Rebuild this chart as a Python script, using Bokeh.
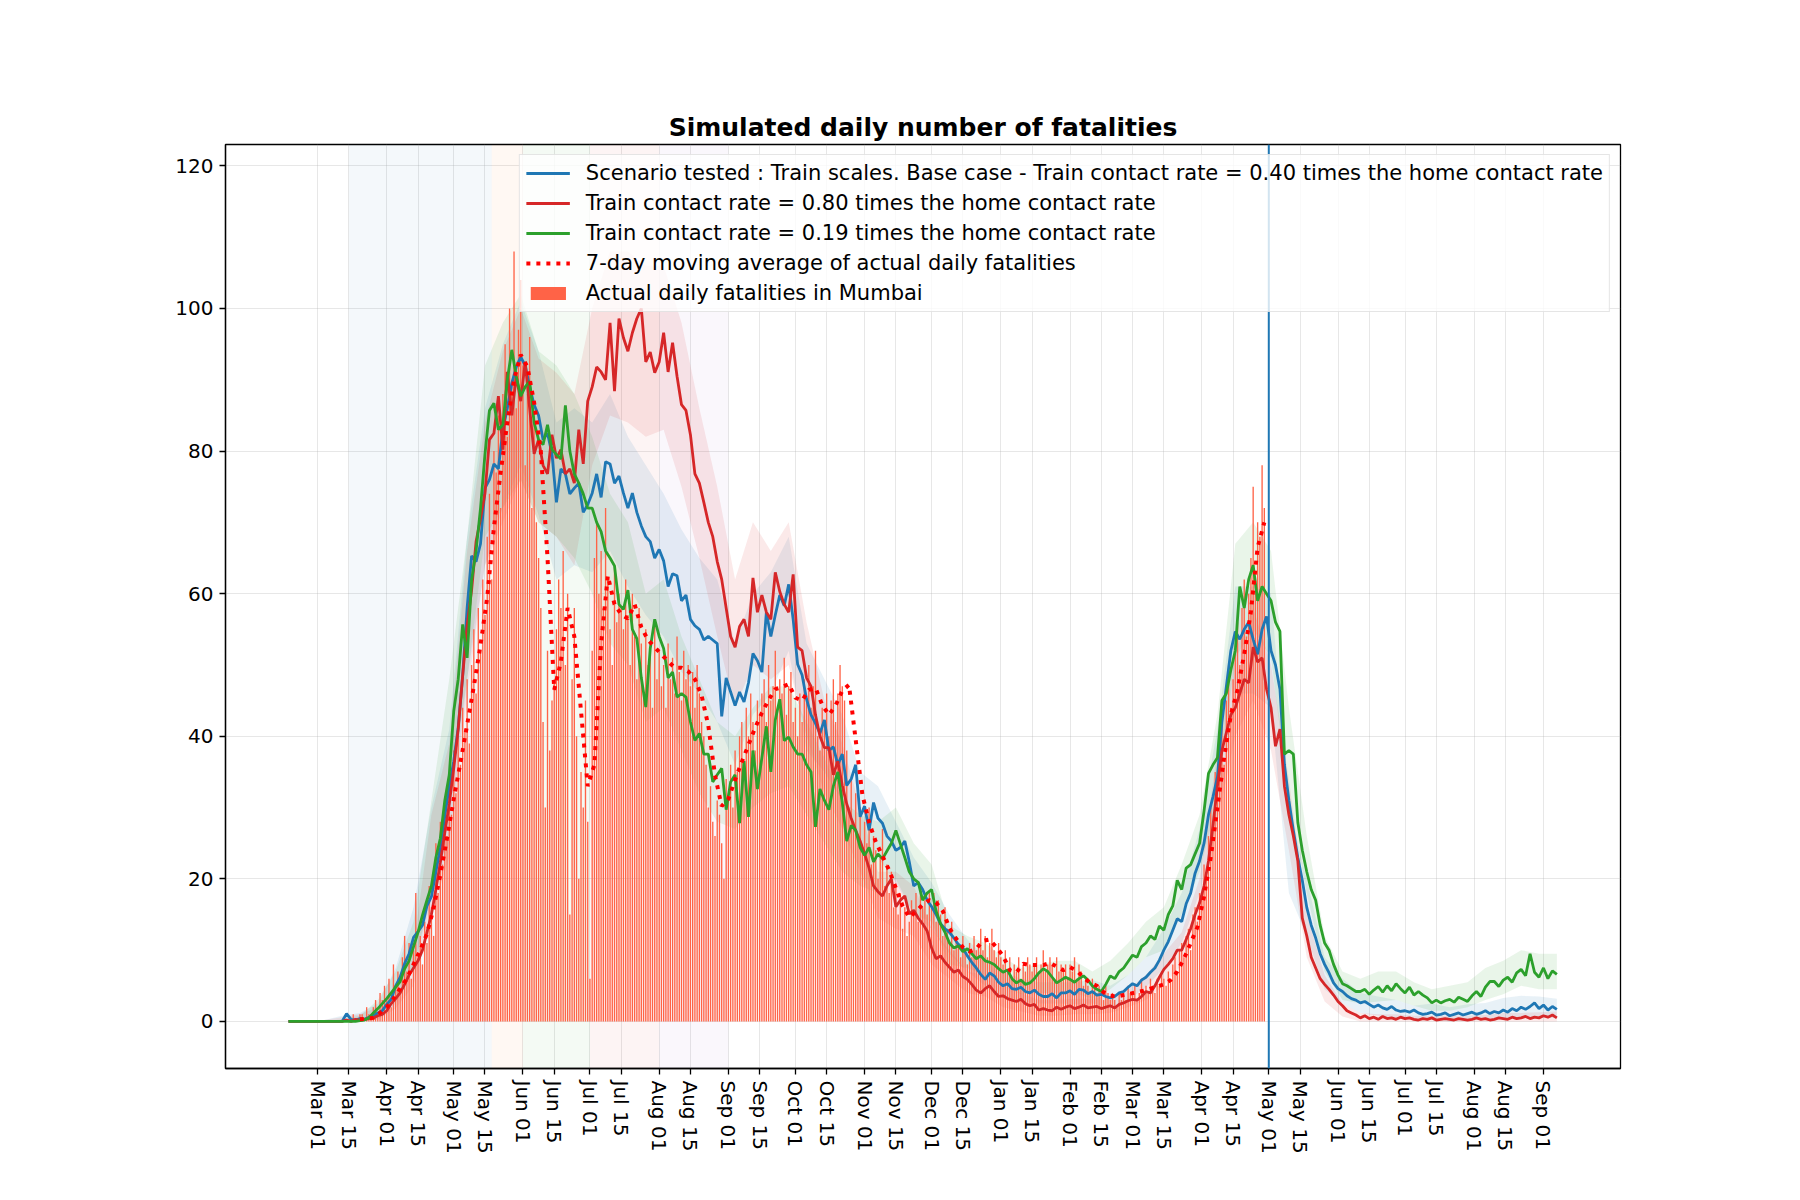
import math
from datetime import datetime, timedelta
from bokeh.plotting import figure
from bokeh.models import (Range1d, FixedTicker, DatetimeTickFormatter, BoxAnnotation, Span,
                          Legend, LegendItem, ColumnDataSource)
from bokeh.embed import file_html
from bokeh.resources import INLINE

# ---------------- data ----------------
TITLE = "Simulated daily number of fatalities"
LABEL_BASE = "Scenario tested : Train scales. Base case - Train contact rate = 0.40 times the home contact rate"
LABEL_HIGH = "Train contact rate = 0.80 times the home contact rate"
LABEL_LOW = "Train contact rate = 0.19 times the home contact rate"
LABEL_MA = "7-day moving average of actual daily fatalities"
LABEL_BARS = "Actual daily fatalities in Mumbai"

sim_start = datetime(2020, 2, 17)   # simulated series, one value every 2 days
sim_step_days = 2

base_case = [
    0, 0, 0, 0, 0, 0, 0, 0, 0, 0,
    0, 0, 0, 1.1, 0.3, 0.2, 0.4, 0.3, 0.6, 0.8,
    1.2, 1.5, 2.4, 3.1, 5.0, 6.2, 8.1, 9.5, 11.8, 12.6,
    13.5, 16.2, 17.5, 21.0, 24.4, 28.8, 33.0, 36.5, 41.2, 48.5,
    58.0, 65.3, 64.5, 67.0, 74.8, 76.0, 78.2, 77.5, 83.0, 86.0,
    89.5, 91.8, 93.2, 92.0, 89.0, 86.5, 85.0, 81.6, 82.5, 79.6,
    72.8, 77.5, 76.8, 74.0, 74.8, 75.5, 71.4, 72.5, 74.1, 76.8,
    73.5, 78.5, 78.2, 75.5, 76.5, 74.1, 72.0, 74.1, 71.4, 69.5,
    68.0, 67.3, 65.0, 66.2, 64.6, 61.0, 62.8, 62.5, 59.0, 59.8,
    56.4, 55.5, 55.0, 53.5, 54.0, 53.5, 53.0, 42.8, 48.2, 46.2,
    44.3, 46.2, 44.8, 47.5, 51.6, 50.6, 49.0, 57.4, 54.0, 57.0,
    59.8, 58.3, 61.3, 56.4, 50.1, 48.6, 45.2, 43.0, 41.8, 40.4,
    42.3, 38.0, 38.5, 36.0, 37.5, 33.1, 34.0, 36.0, 28.7, 30.2,
    26.8, 30.7, 28.5, 27.8, 26.0, 25.3, 24.0, 24.4, 25.3, 22.4,
    19.0, 19.5, 18.5, 17.0, 16.1, 15.0, 13.7, 13.0, 12.5, 11.7,
    10.8, 10.3, 9.2, 8.3, 7.5, 6.6, 5.9, 6.8, 6.4, 5.5,
    5.0, 5.3, 4.6, 4.5, 4.8, 4.2, 4.0, 4.4, 3.8, 3.5,
    3.5, 3.9, 3.3, 4.0, 4.0, 4.3, 3.8, 4.5, 4.4, 3.9,
    4.2, 3.7, 3.8, 3.5, 3.3, 3.5, 4.0, 4.2, 4.8, 5.3,
    5.0, 5.8, 6.2, 6.9, 7.5, 8.6, 10.0, 11.2, 12.8, 14.4,
    14.0, 16.5, 18.0, 20.8, 22.5, 25.0, 29.0, 31.5, 34.3, 42.0,
    47.0, 52.0, 54.7, 53.6, 55.0, 56.0, 53.6, 51.5, 55.0, 56.8,
    52.0, 50.0, 46.6, 36.0, 31.0, 26.8, 23.0, 19.8, 16.0, 13.5,
    11.7, 9.5, 8.0, 6.8, 5.4, 4.6, 4.2, 3.6, 3.2, 3.0,
    2.6, 2.8, 2.4, 2.0, 2.3, 1.9, 1.7, 2.1, 1.6, 1.4,
    1.5, 1.3, 1.6, 1.2, 1.0, 1.1, 1.3, 0.9, 1.0, 1.2,
    0.8, 1.0, 1.2, 0.9, 1.1, 1.3, 1.0, 1.2, 1.5, 1.1,
    1.4, 1.2, 1.6, 1.3, 1.8, 1.5, 2.0, 1.7, 2.1, 2.6,
    1.8, 2.3, 1.6, 2.1, 1.7,
]

high_rate = [
    0, 0, 0, 0, 0, 0, 0, 0, 0, 0,
    0, 0, 0, 0.2, 0, 0.3, 0.2, 0.3, 0.4, 0.5,
    0.8, 1.0, 1.5, 2.5, 3.2, 4.0, 5.2, 6.5, 7.5, 8.5,
    10.0, 12.5, 15.0, 18.5, 22.3, 26.5, 30.5, 35.5, 41.0, 48.5,
    55.5, 60.5, 67.3, 70.5, 74.1, 81.6, 82.5, 87.7, 80.2, 91.1,
    85.0, 90.5, 87.0, 92.5, 86.0, 79.6, 81.6, 78.0, 76.8, 82.3,
    79.0, 80.2, 76.8, 77.5, 75.5, 83.0, 78.2, 87.0, 89.0, 91.8,
    91.1, 90.0, 98.0, 88.4, 98.6, 95.9, 94.0, 96.6, 98.6, 100.0,
    92.5, 93.9, 91.0, 92.5, 96.6, 91.1, 95.2, 90.5, 86.5, 85.7,
    82.3, 76.8, 75.5, 72.8, 70.0, 68.0, 64.5, 62.0, 58.0, 54.0,
    52.5, 55.4, 56.4, 54.0, 62.2, 57.4, 59.8, 57.4, 56.4, 63.0,
    60.3, 58.5, 57.4, 62.7, 52.5, 52.0, 48.2, 47.0, 43.0, 40.0,
    38.4, 38.4, 34.6, 36.5, 33.1, 30.5, 28.5, 26.8, 25.3, 23.5,
    21.5, 19.0, 18.2, 17.6, 19.0, 20.0, 16.1, 17.0, 17.6, 15.1,
    15.6, 14.5, 13.7, 12.7, 10.3, 8.8, 9.2, 8.3, 7.6, 6.9,
    7.2, 6.3, 5.9, 5.2, 4.4, 4.0, 4.6, 5.0, 4.2, 3.5,
    3.6, 3.2, 3.0, 2.8, 3.1, 2.5, 2.2, 2.4, 1.6, 1.8,
    1.6, 1.5, 2.0, 1.7, 2.0, 2.2, 1.8, 2.0, 2.3, 1.9,
    2.0, 2.1, 1.8, 2.0, 2.2, 1.9, 2.4, 2.6, 2.9, 3.1,
    3.0, 3.5, 4.2, 4.0, 5.0, 6.2, 7.3, 8.0, 8.8, 10.0,
    10.0, 11.5, 13.0, 15.0, 16.6, 19.0, 22.5, 27.5, 33.0, 38.0,
    40.5, 43.0, 44.0, 46.0, 48.0, 47.5, 52.5, 50.4, 51.0, 46.6,
    44.0, 38.6, 41.0, 33.0, 29.0, 26.0, 22.5, 14.5, 12.0, 9.0,
    7.5, 6.0, 5.2, 4.5, 3.7, 2.8, 2.2, 1.5, 1.2, 0.9,
    0.5, 0.8, 0.4, 0.6, 0.3, 0.7, 0.4, 0.5, 0.3, 0.6,
    0.4, 0.5, 0.3, 0.2, 0.4, 0.3, 0.5, 0.2, 0.3, 0.4,
    0.3, 0.2, 0.4, 0.3, 0.2, 0.3, 0.5, 0.3, 0.4, 0.2,
    0.3, 0.5, 0.4, 0.3, 0.6, 0.4, 0.5, 0.7, 0.4, 0.6,
    0.5, 0.8, 0.6, 0.9, 0.5,
]

low_rate = [
    0, 0, 0, 0, 0, 0, 0, 0, 0, 0,
    0, 0, 0, 0, 0, 0, 0.1, 0.2, 0.5, 1.2,
    1.8, 2.5, 3.2, 4.0, 4.8, 5.6, 7.4, 8.5, 10.5, 12.5,
    14.9, 17.0, 19.0, 23.0, 25.7, 31.0, 34.6, 43.5, 48.0, 55.7,
    51.0, 61.9, 66.0, 72.0, 79.6, 85.7, 86.7, 83.0, 83.7, 90.0,
    94.2, 90.5, 87.7, 89.0, 89.8, 84.0, 81.6, 80.9, 83.7, 80.2,
    79.5, 78.9, 86.4, 80.0, 76.8, 75.5, 74.0, 72.0, 72.0, 70.0,
    68.7, 66.0, 65.0, 63.9, 58.5, 57.8, 60.5, 55.0, 53.7, 48.2,
    44.1, 52.3, 56.4, 54.0, 52.3, 48.2, 49.0, 45.5, 46.0, 45.5,
    42.0, 39.4, 40.4, 37.5, 37.5, 33.6, 34.6, 35.5, 29.7, 33.6,
    34.6, 27.8, 36.5, 28.7, 38.0, 32.6, 37.0, 41.4, 35.0, 42.3,
    45.2, 39.4, 39.9, 38.5, 37.5, 37.5, 36.0, 35.0, 27.3, 32.6,
    31.0, 29.7, 33.0, 35.0, 30.7, 25.3, 27.5, 26.8, 24.4, 23.3,
    24.4, 22.4, 23.5, 22.8, 23.9, 25.0, 26.8, 24.9, 23.0, 21.0,
    20.0, 19.5, 17.0, 18.0, 18.5, 15.5, 13.7, 12.5, 11.0, 10.3,
    10.6, 9.8, 10.2, 9.5, 8.8, 9.2, 8.5, 8.3, 8.0, 7.4,
    6.9, 7.2, 6.0, 5.4, 5.8, 5.2, 5.4, 6.0, 6.8, 7.4,
    7.0, 6.2, 5.4, 5.8, 6.2, 5.9, 5.5, 6.0, 6.4, 5.8,
    5.0, 4.5, 4.2, 5.2, 6.4, 6.0, 7.0, 7.5, 8.4, 9.3,
    9.0, 10.5, 11.0, 12.0, 11.5, 13.4, 12.8, 15.0, 16.2, 19.8,
    18.5, 21.5, 22.0, 23.5, 25.0, 29.5, 34.8, 36.0, 37.0, 45.0,
    46.0, 49.3, 52.0, 61.0, 58.0, 62.0, 64.0, 59.0, 61.0, 60.0,
    59.0, 56.0, 54.7, 37.5, 38.0, 37.5, 27.9, 24.0, 21.0, 18.5,
    17.0, 13.5, 11.0, 10.0, 8.0, 6.5, 5.3, 5.0, 4.6, 4.2,
    4.2, 4.5, 3.8, 4.4, 4.9, 4.1, 5.0, 4.3, 5.3, 4.6,
    4.0, 4.8, 3.7, 4.2, 3.7, 3.3, 2.6, 3.0, 2.6, 2.9,
    3.1, 2.7, 3.4, 3.1, 2.8, 3.6, 4.2, 3.5, 4.8, 5.6,
    5.6, 4.9, 5.8, 6.2, 5.5, 6.8, 7.3, 6.4, 9.5, 6.9,
    6.2, 7.5, 6.0, 7.1, 6.6,
]

# spread of the simulation runs, one value every 8 days
band_start = datetime(2020, 2, 17)
band_step_days = 8
base_lo = [0, 0, 0, 0, 0, 0.3, 2.5, 7.5, 17, 25,
           48, 64, 72, 78, 71, 62, 64, 63, 66, 61,
           57, 54, 49, 46, 42, 36, 43, 46, 52, 38,
           35, 31, 25, 23, 19.5, 15, 13, 9.5, 7, 5,
           3.5, 2.8, 2.5, 2.5, 2.4, 2.5, 2, 3, 4.8, 7.5,
           11, 18, 28, 46, 46, 44, 18, 12, 4.5, 2.5,
           1.2, 0.8, 0.5, 0.2, 0.3, 0, 0.2, 0.2, 0.5, 0.6,
           0.5, 0.5]
base_hi = [0, 0, 0.2, 0.8, 1.2, 2.5, 7.5, 16, 30, 41,
           68, 86, 95, 101, 94, 84, 86, 84, 88, 82,
           78, 74, 69, 65, 62, 53, 60, 63, 68, 53,
           48, 43, 35, 33, 28, 23, 19.5, 15, 11.5, 9,
           7, 6, 5.5, 5.5, 5.5, 5.8, 5, 6.5, 9, 13,
           18, 27, 41, 61, 61, 60, 30, 20, 9, 6,
           4, 3.5, 3, 2.2, 2.5, 2, 2.4, 2.6, 3.3, 3.6,
           3.5, 3.2]
high_lo = [0, 0, 0, 0, 0, 0.2, 1.8, 5, 15, 23,
           46, 64, 70, 76, 70, 68, 64, 78, 85, 84,
           82, 83, 75, 65, 54, 44, 50, 48, 50, 40,
           32, 27, 21, 14.5, 13, 12, 8, 6, 4, 3.5,
           2, 1.4, 0.8, 0.8, 1, 1, 1.2, 2, 3, 5,
           8, 13, 28, 40, 45, 38, 24, 9, 2.8, 0.7,
           0, 0, 0, 0, 0, 0, 0, 0, 0, 0,
           0, 0]
high_hi = [0, 0, 0.2, 0.6, 1, 2, 5, 10.5, 29, 39,
           66, 84, 94, 100, 93, 91, 88, 100, 108, 108,
           106, 106, 98, 86, 75, 62, 70, 66, 70, 56,
           45, 39, 30, 21, 21, 19, 13, 10, 7, 6.5,
           5, 4, 3, 3, 3.2, 3.2, 3.6, 4.5, 6.5, 9.5,
           12.5, 20, 38, 52, 58, 50, 34, 15, 6.5, 2.5,
           1.2, 1, 1, 0.8, 0.8, 0.8, 0.8, 0.9, 1.2, 1.2,
           1.3, 1.4]
low_lo = [0, 0, 0, 0, 0, 0.8, 3, 7.5, 18, 31,
          48, 68, 72, 76, 70, 68, 65, 60, 53, 50,
          42, 44, 38, 32, 28, 27, 30, 32, 33, 29,
          25, 21, 19, 18, 20, 15, 14, 8, 7.5, 6.5,
          5, 3.8, 4, 4, 4, 3.2, 4.5, 6.5, 9, 10,
          15, 21, 31, 51, 55, 51, 31, 18, 7, 3,
          2.5, 2.8, 3, 2.2, 1.5, 1.5, 2, 3, 3.8, 5,
          4.5, 4.5]
low_hi = [0, 0, 0, 0.3, 0.8, 3, 7, 14, 31, 48,
          68, 92, 98, 102, 94, 92, 88, 82, 74, 70,
          60, 62, 54, 48, 42, 40, 44, 47, 47, 42,
          37, 31, 29, 28, 30, 25, 22, 13.5, 12, 11,
          9, 7.5, 8, 8.5, 8.5, 7, 8.5, 11, 14, 16,
          22, 29, 43, 67, 70, 66, 44, 26, 12, 7,
          6, 7, 7, 5.5, 4.5, 5, 5.5, 7.5, 8.5, 10,
          9.5, 9.5]

# actual daily fatalities, one value per day
bars_start = datetime(2020, 3, 17)
actual_daily = [
    1, 0, 0, 1, 1, 0, 2, 1, 1, 2, 3, 1, 4, 3, 5,                       # Mar 17-31
    3, 6, 2, 8, 5, 7, 4, 9, 12, 7, 11, 6, 10, 18, 9,                   # Apr 1-15
    12, 8, 14, 11, 19, 16, 12, 25, 18, 28, 22, 30, 26, 34, 29,         # Apr 16-30
    38, 32, 40, 36, 44, 41, 48, 39, 50, 55, 46, 58, 52, 62, 57,        # May 1-15
    68, 74, 62, 80, 77, 85, 72, 88, 95, 82, 100, 90, 108, 86, 97, 104, # May 16-31
    92, 78, 88, 96, 72, 85, 70, 65, 58, 42, 30, 52, 38, 45, 48,        # Jun 1-15
    55, 62, 58, 66, 50, 60, 15, 48, 58, 40, 20, 35, 30, 45, 28,        # Jun 16-30
    6, 52, 65, 70, 60, 66, 58, 72, 62, 55, 50, 64, 56, 60, 58,         # Jul 1-15
    55, 62, 57, 50, 60, 54, 48, 58, 53, 46, 55, 50, 52, 44, 56, 48,    # Jul 16-31
    52, 47, 50, 44, 53, 48, 51, 46, 54, 49, 45, 52, 48, 50, 47,        # Aug 1-15
    49, 44, 50, 46, 42, 40, 36, 30, 33, 28, 26, 31, 29, 25, 20, 34,    # Aug 16-31
    32, 36, 30, 38, 35, 40, 42, 36, 44, 40, 46, 42, 38, 45, 43,        # Sep 1-15
    46, 48, 42, 50, 45, 47, 52, 44, 48, 46, 51, 43, 47, 49, 42,        # Sep 16-30
    44, 40, 46, 42, 48, 45, 50, 44, 47, 52, 40, 38, 44, 42, 46,        # Oct 1-15
    40, 45, 48, 42, 46, 50, 47, 45, 38, 30, 34, 28, 32, 26, 30, 24,    # Oct 16-31
    28, 25, 30, 22, 26, 24, 20, 23, 27, 19, 22, 18, 21, 16, 19,        # Nov 1-15
    15, 18, 13, 16, 12, 14, 17, 15, 18, 14, 19, 16, 17, 15, 18,        # Nov 16-30
    16, 18, 14, 17, 15, 12, 16, 13, 11, 14, 10, 12, 11, 9, 12,         # Dec 1-15
    10, 8, 11, 9, 12, 10, 11, 13, 10, 12, 9, 11, 13, 10, 9, 11,        # Dec 16-31
    9, 8, 10, 7, 9, 6, 8, 7, 9, 6, 8, 7, 9, 8, 7,                      # Jan 1-15
    8, 9, 7, 8, 10, 7, 8, 9, 8, 6, 9, 7, 8, 7, 8, 6,                   # Jan 16-31
    8, 7, 9, 6, 8, 7, 5, 6, 5, 4, 6, 5, 4, 5,                          # Feb 1-14
    4, 3, 5, 4, 3, 4, 3, 2, 4, 3, 4, 3, 5, 4,                          # Feb 15-28
    4, 5, 3, 4, 6, 4, 5, 4, 6, 5, 4, 6, 5, 7, 6,                       # Mar 1-15
    5, 7, 6, 8, 9, 7, 10, 11, 9, 12, 13, 10, 15, 16, 14, 18,           # Mar 16-31
    18, 22, 20, 26, 30, 28, 35,                                        # Apr 1-7
    32, 38, 42, 36, 45, 50, 44, 48,                                    # Apr 8-15
    52, 56, 50, 58, 62, 54, 60,                                        # Apr 16-22
    65, 75, 62, 70, 68, 78, 72,                                        # Apr 23-29
]

# 7-day moving average of the actual fatalities, one value every 3 days
ma_start = datetime(2020, 3, 20)
ma_step_days = 3
moving_avg = [
    0.3, 0.4, 0.5, 1.2, 2.0, 3.2, 4.6, 6.0, 8.0, 10.0,
    12.3, 15.9, 20.6, 25.7, 31.2, 36.3, 41.6, 47.0, 52.8, 59.5,
    69.3, 77.0, 84.0, 90.0, 93.5, 91.8, 86.8, 80.0, 65.0, 46.5,
    50.5, 58.0, 54.0, 43.5, 33.0, 36.0, 53.0, 62.5, 58.5, 57.1,
    56.5, 58.5, 55.3, 53.5, 52.5, 51.5, 50.5, 49.6, 49.6, 49.1,
    48.0, 45.7, 41.5, 34.5, 30.2, 31.2, 33.9, 36.4, 38.8, 41.2,
    43.3, 45.1, 46.6, 46.9, 47.3, 45.4, 45.0, 46.5, 46.8, 44.4,
    43.0, 44.3, 46.4, 47.2, 39.5, 31.8, 27.9, 25.2, 23.2, 21.2,
    18.7, 16.2, 14.6, 15.4, 16.4, 17.0, 16.7, 15.5, 13.1, 11.6,
    10.4, 9.8, 10.2, 11.3, 11.5, 10.4, 9.2, 7.2, 6.9, 8.1,
    7.9, 7.9, 7.9, 8.2, 7.7, 7.2, 7.6, 7.1, 6.2, 5.4,
    5.0, 4.1, 3.6, 3.5, 3.7, 3.9, 4.1, 4.3, 4.6, 4.9,
    5.2, 5.8, 7.0, 8.8, 11.0, 13.2, 17.5, 23.0, 30.0, 37.0,
    43.0, 46.5, 51.5, 57.5, 66.5, 70.0,
]

# policy phases shaded in the background (start, end, colour)
phase_starts = [datetime(2020, 3, 15), datetime(2020, 5, 18), datetime(2020, 6, 1),
                datetime(2020, 7, 1), datetime(2020, 8, 1)]
phase_ends = [datetime(2020, 5, 18), datetime(2020, 6, 1), datetime(2020, 7, 1),
              datetime(2020, 8, 1), datetime(2020, 9, 1)]
phase_colors = ["#1f77b4", "#ff7f0e", "#2ca02c", "#d62728", "#9467bd"]
marker_date = datetime(2021, 5, 1)

y_ticks = [0, 20, 40, 60, 80, 100, 120]

# ---------------- helpers ----------------
EPOCH = datetime(1970, 1, 1)
def ms(d):
    return (d - EPOCH).total_seconds() * 1000.0

def series_dates(start, step, n):
    return [start + timedelta(days=step * i) for i in range(n)]

x_ticks = []
for yr, mo in [(2020, m) for m in range(3, 13)] + [(2021, m) for m in range(1, 10)]:
    for dd in (1, 15):
        dt = datetime(yr, mo, dd)
        if dt <= datetime(2021, 9, 1):
            x_ticks.append(ms(dt))

FONT = "DejaVu Sans"

p = figure(width=1784, height=1184, output_backend="svg", toolbar_location=None,
           x_axis_type="datetime",
           x_range=Range1d(datetime(2020, 1, 19, 19), datetime(2021, 10, 5, 12)),
           y_range=Range1d(-6.6, 123.0),
           min_border_left=225, min_border_right=164, min_border_top=144, min_border_bottom=116)

p.title.text = TITLE
p.title.text_font = FONT
p.title.text_font_size = "25px"
p.title.text_font_style = "bold"
p.title.text_color = "black"
p.title.align = "center"
p.title.standoff = 6

p.outline_line_color = "black"
p.outline_line_width = 1.3
p.background_fill_color = "white"
p.border_fill_color = "white"

p.xaxis.ticker = FixedTicker(ticks=x_ticks)
fmt = "%b %d"
p.xaxis.formatter = DatetimeTickFormatter(microseconds=fmt, milliseconds=fmt, seconds=fmt,
                                          minsec=fmt, minutes=fmt, hourmin=fmt, hours=fmt,
                                          days=fmt, months=fmt, years=fmt,
                                          strip_leading_zeros=False)
p.xaxis.major_label_orientation = -math.pi / 2
p.yaxis.ticker = FixedTicker(ticks=y_ticks)
for ax in (p.xaxis, p.yaxis):
    ax.major_label_text_font = FONT
    ax.major_label_text_font_size = "20px"
    ax.major_label_text_color = "black"
    ax.major_tick_out = 6
    ax.major_tick_in = 0
    ax.minor_tick_out = 0
    ax.minor_tick_in = 0
    ax.major_tick_line_color = "black"
    ax.major_tick_line_width = 1.3
    ax.axis_line_color = "black"
    ax.axis_line_width = 1.3
    ax.major_label_standoff = 6

p.xgrid.ticker = FixedTicker(ticks=x_ticks)
p.ygrid.ticker = FixedTicker(ticks=y_ticks)
for g in (p.xgrid, p.ygrid):
    g.grid_line_color = "#b0b0b0"
    g.grid_line_alpha = 0.3
    g.grid_line_width = 1

# background phases
for s, e, c in zip(phase_starts, phase_ends, phase_colors):
    p.add_layout(BoxAnnotation(left=ms(s), right=ms(e), fill_color=c, fill_alpha=0.05,
                               line_color=None, level="underlay"))

# bands
bd = series_dates(band_start, band_step_days, len(base_lo))
p.varea(x=bd, y1=base_lo, y2=base_hi, fill_color="#1f77b4", fill_alpha=0.1)
p.varea(x=bd, y1=high_lo, y2=high_hi, fill_color="#d62728", fill_alpha=0.1)
p.varea(x=bd, y1=low_lo, y2=low_hi, fill_color="#2ca02c", fill_alpha=0.1)

# bars
bar_src = ColumnDataSource(dict(x=series_dates(bars_start, 1, len(actual_daily)), top=actual_daily))
r_bars = p.vbar(x="x", top="top", bottom=0, width=0.6 * 86400000, source=bar_src,
                fill_color="#ff6347", line_color=None)

sd = series_dates(sim_start, sim_step_days, len(base_case))
r_base = p.line(sd, base_case, line_color="#1f77b4", line_width=2.8)
r_high = p.line(series_dates(sim_start, sim_step_days, len(high_rate)), high_rate,
                line_color="#d62728", line_width=2.8)
r_low = p.line(series_dates(sim_start, sim_step_days, len(low_rate)), low_rate,
               line_color="#2ca02c", line_width=2.8)
r_ma = p.line(series_dates(ma_start, ma_step_days, len(moving_avg)), moving_avg,
              line_color="#ff0000", line_width=4, line_dash="4 6")

p.add_layout(Span(location=ms(marker_date), dimension="height", line_color="#1f77b4", line_width=2))

legend = Legend(items=[
    LegendItem(label=LABEL_BASE, renderers=[r_base]),
    LegendItem(label=LABEL_HIGH, renderers=[r_high]),
    LegendItem(label=LABEL_LOW, renderers=[r_low]),
    LegendItem(label=LABEL_MA, renderers=[r_ma]),
    LegendItem(label=LABEL_BARS, renderers=[r_bars]),
], location="top_right")
legend.label_text_font = FONT
legend.label_text_font_size = "21px"
legend.label_text_color = "black"
legend.label_height = 24
legend.glyph_height = 16
legend.glyph_width = 44
legend.spacing = 6
legend.padding = 6
legend.margin = 10
legend.label_standoff = 16
legend.border_line_color = "#cccccc"
legend.border_line_width = 1
legend.background_fill_color = "white"
legend.background_fill_alpha = 0.8
p.add_layout(legend)

open("out.html", "w").write(file_html(p, INLINE))
